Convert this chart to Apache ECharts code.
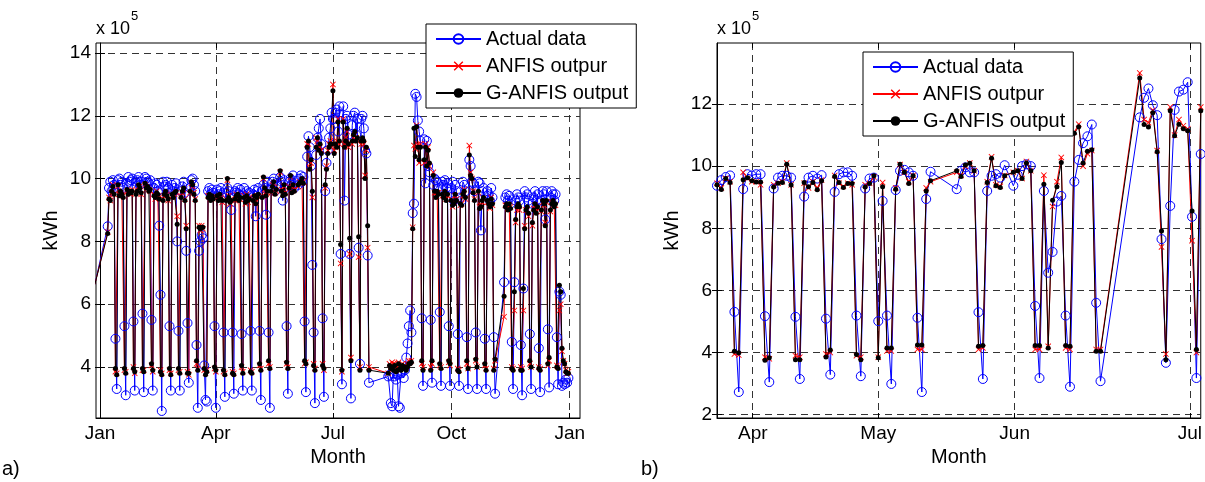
<!DOCTYPE html>
<html>
<head>
<meta charset="utf-8">
<script src="https://cdn.jsdelivr.net/npm/echarts@6.0.0/dist/echarts.min.js"></script>
<style>
  html, body { margin: 0; padding: 0; background: #fff; }
  #chart { width: 1205px; height: 482px; }
</style>
</head>
<body>
<div id="chart"></div>
<script>
// ---- panel a) : daily load over one year, x = day of year (0 = 1 Jan), values in 1e5 kWh
const firstDayA = -4
const monthTicksA = [0, 90, 181, 273, 365]
const monthLabelsA = ['Jan', 'Apr', 'Jul', 'Oct', 'Jan']
const kwhTicksA = [4, 6, 8, 10, 12, 14]

// rows are weeks Mon..Sun, null = no sample that day
const actualA = [
  6.63, null, null, null, null, null, null, null, null, null, 8.48,
  9.7, 9.9, 9.6, 9.95, 9.8, 4.9, 3.3,
  9.95, 10.0, 9.8, 9.9, 9.7, 5.3, 3.1,
  9.85, 10.05, 9.9, 9.95, 10.0, 5.45, 3.25,
  9.9, 9.95, 10.05, 9.8, 9.9, 5.7, 3.2,
  10.05, 10.0, 9.9, 9.85, 9.95, 5.5, 3.25,
  9.7, 9.85, 9.8, 9.6, 8.5, 6.3, 2.6,
  9.9, 9.75, 9.8, 9.9, 9.7, 5.3, 3.25,
  9.8, 9.6, 9.7, 9.85, 8.0, 5.15, 3.25,
  9.6, 9.75, 9.9, 9.55, 7.7, 5.4, 3.5,
  9.7, 9.95, 10.0, 9.8, 9.6, 4.7, 2.7,
  7.7, 8.0, 8.2, 8.1, 4.05, 2.95, 2.9,
  9.6, 9.7, 9.5, 9.65, 9.55, 5.3, 2.7,
  9.65, 9.5, 9.6, 9.7, 9.4, 5.1, 3.05,
  9.55, 9.7, 9.6, 9.45, 9.0, 5.1, 3.15,
  9.6, 9.55, 9.7, 9.5, 9.65, 5.05, 3.25,
  9.7, 9.45, 9.6, 9.5, 9.55, 5.15, 3.25,
  9.5, 9.65, 8.8, 9.6, 9.7, 5.15, 2.95,
  9.6, 9.8, 9.7, 8.85, 9.9, 5.1, 2.7,
  9.7, 9.9, 10.0, 9.6, 9.75, null, null,
  10.05, 9.9, 9.3, 9.95, 9.7, 5.3, 3.15,
  9.9, 10.0, 9.8, 10.1, 9.7, null, null,
  9.8, 10.0, 10.1, 9.9, 10.05, 5.45, 3.2,
  10.7, 11.35, 11.0, 10.4, 7.25, 5.1, 2.85,
  10.75, 11.3, 11.6, 11.9, 11.1, 5.55, 3.05,
  9.6, 10.5, 10.9, 11.3, 11.6, 12.1, 11.9,
  11.9, 12.1, 12.2, 11.5, 12.3, 7.6, 3.45,
  12.3, 9.3, 11.9, 12.0, 11.4, 7.6, 3.0,
  11.7, 12.0, 12.1, 11.4, 11.9, 7.8, 4.1,
  11.9, 12.0, 11.6, 10.9, 10.8, 7.55, 3.5,
  null, null, null, null, null, null, null,
  null, null, null, null, null, null, null,
  3.7, 3.75, 2.85, 2.75, 3.8, 3.7, 3.6,
  3.75, 2.75, 2.7, 3.8, 3.85, 3.65, 3.9,
  4.3, 4.75, 5.3, 5.8, 5.1, 8.9, 9.2,
  12.7, 12.6, 11.85, 11.5, 11.2, 5.55, 3.4,
  11.25, 9.85, 11.2, 10.4, 10.2, 5.5, 3.5,
  9.8, 10.0, 9.95, 9.9, 9.7, 5.75, 3.4,
  9.9, 9.8, 9.95, 9.7, 9.85, 5.3, 3.4,
  9.7, 9.9, 9.3, 9.8, 9.6, 5.05, 3.4,
  9.4, 9.3, 9.9, 9.8, 9.6, 4.95, 3.3,
  10.6, 10.4, 9.9, 9.85, 9.6, 5.1, 3.3,
  9.9, 9.85, 8.35, 9.6, 9.7, 4.9, 3.3,
  9.6, 9.5, 9.3, 9.7, 9.4, 4.95, 3.15,
  null, null, null, null, null, null, 6.7,
  9.4, 9.5, 9.3, 9.45, 9.2, 4.8, 3.3,
  6.7, 9.3, 9.5, 9.4, 9.3, 4.7, 3.1,
  6.5, 9.6, 9.4, 9.5, 9.3, 5.05, 3.3,
  9.2, 9.4, 9.6, 9.3, 9.5, 4.6, 3.2,
  9.3, 9.6, 9.5, 8.7, 9.6, 5.2, 3.35,
  9.4, 9.6, 9.5, 9.3, 9.5, 4.95, 3.45,
  6.4, 6.3, 3.4, 3.5, 3.45, 3.6, 3.5,
  3.65
]

const anfisA = [
  6.63, null, null, null, null, null, null, null, null, null, 8.3,
  9.4, 9.3, 9.55, 9.8, 9.5, 3.85, 3.8,
  9.75, 9.5, 9.55, 9.5, 9.45, 3.9, 3.85,
  9.6, 9.55, 9.6, 9.5, 9.65, 4.0, 3.8,
  9.55, 9.6, 9.75, 9.75, 9.5, 3.9, 3.9,
  9.8, 9.75, 9.7, 9.65, 9.6, 4.05, 3.85,
  9.5, 9.35, 9.6, 9.45, 9.4, 3.9, 3.8,
  9.35, 9.45, 9.55, 9.5, 9.3, 3.9, 3.8,
  9.45, 9.45, 9.5, 9.55, 8.8, 3.9, 3.85,
  9.45, 9.55, 9.65, 9.35, 8.5, 3.85, 3.75,
  9.55, 9.85, 9.75, 9.55, 9.35, 4.1, 3.95,
  8.5, 8.35, 8.5, 8.4, 3.9, 3.8, 3.9,
  9.45, 9.45, 9.35, 9.4, 9.4, 3.95, 3.85,
  9.4, 9.35, 9.45, 9.4, 9.25, 3.85, 3.8,
  9.35, 9.95, 9.45, 9.2, 9.35, 3.85, 3.8,
  9.3, 9.5, 9.45, 9.35, 9.35, 4.0, 3.85,
  9.45, 9.2, 9.5, 9.25, 9.4, 3.9, 3.85,
  9.35, 9.4, 9.25, 9.45, 9.45, 4.05, 3.95,
  9.45, 10.0, 9.65, 9.5, 9.55, 4.1, 4.0,
  9.55, 9.8, 9.85, 9.55, 9.6, null, null,
  10.2, 9.65, 9.5, 9.75, 9.55, 4.1, 4.0,
  9.75, 10.05, 9.6, 9.75, 9.65, null, null,
  9.75, 9.9, 9.85, 9.95, 9.9, 4.1, 4.15,
  11.1, 11.1, 10.35, 10.5, 9.4, 4.1, 3.95,
  11.3, 11.2, 11.0, 11.0, 10.9, 4.1, 3.9,
  9.7, 10.4, 10.9, 11.1, 11.2, 11.0, 13.0,
  10.9, 11.0, 11.2, 11.9, 11.1, 7.3, 3.85,
  11.9, 11.1, 11.3, 11.5, 11.0, 7.6, 4.3,
  11.1, 11.3, 11.4, 11.3, 11.2, 7.5, 4.0,
  11.1, 11.2, 11.1, 10.1, 10.9, 7.8, 4.0,
  null, null, null, null, null, null, null,
  null, null, null, null, null, null, null,
  3.8, 4.1, 4.05, 4.15, 4.1, 4.1, 3.9,
  4.0, 4.15, 4.0, 4.05, 4.1, 4.0, 4.05,
  4.0, 4.1, 4.2, 4.15, 4.2, 8.45, 11.05,
  10.95, 11.7, 11.1, 10.5, 11.1, 4.1, 4.0,
  10.5, 11.1, 10.5, 11.0, 10.4, 4.0, 4.1,
  10.2, 9.55, 9.45, 9.55, 9.55, 4.05, 4.0,
  9.45, 9.45, 9.55, 9.35, 9.45, 4.15, 4.05,
  9.35, 9.1, 9.25, 9.45, 9.35, 3.95, 3.9,
  9.15, 9.2, 9.45, 9.65, 9.35, 4.1, 3.95,
  11.05, 10.2, 10.0, 9.6, 9.35, 4.2, 4.0,
  9.55, 9.1, 9.15, 9.25, 9.35, 4.05, 3.95,
  9.25, 9.25, 9.05, 9.4, 9.15, 3.95, 4.2,
  null, null, null, null, null, null, 5.6,
  9.15, 9.15, 9.05, 9.15, 9.1, 4.0, 3.95,
  5.8, 8.6, 9.0, 9.1, 9.0, 4.0, 3.95,
  5.8, 8.5, 9.0, 9.0, 8.8, 4.1, 4.0,
  8.5, 9.05, 9.15, 8.95, 9.05, 4.0, 3.95,
  8.95, 9.25, 9.15, 8.6, 9.25, 4.05, 4.2,
  8.95, 9.25, 9.25, 9.15, 9.15, 4.05, 4.0,
  5.8, 6.0, 4.5, 4.2, 4.1, 3.9, 3.8,
  3.85
]

const ganfisA = [
  6.63, null, null, null, null, null, null, null, null, null, 8.25,
  9.35, 9.3, 9.6, 9.75, 9.5, 3.95, 3.75,
  9.8, 9.45, 9.6, 9.5, 9.4, 3.95, 3.8,
  9.65, 9.5, 9.6, 9.55, 9.6, 3.95, 3.85,
  9.5, 9.6, 9.8, 9.7, 9.55, 3.95, 3.85,
  9.85, 9.7, 9.75, 9.6, 9.65, 4.1, 3.9,
  9.45, 9.4, 9.55, 9.5, 9.35, 3.85, 3.75,
  9.3, 9.5, 9.6, 9.45, 9.35, 3.95, 3.75,
  9.5, 9.4, 9.55, 9.6, 8.55, 3.95, 3.8,
  9.4, 9.6, 9.7, 9.3, 8.4, 3.8, 3.8,
  9.6, 9.9, 9.8, 9.5, 9.3, 4.2, 3.9,
  8.45, 8.4, 8.45, 8.45, 3.95, 3.75, 3.85,
  9.4, 9.5, 9.3, 9.45, 9.35, 4.0, 3.9,
  9.45, 9.3, 9.5, 9.35, 9.3, 3.9, 3.75,
  9.3, 10.0, 9.4, 9.25, 9.3, 3.8, 3.75,
  9.35, 9.45, 9.5, 9.3, 9.4, 4.05, 3.8,
  9.4, 9.25, 9.45, 9.3, 9.35, 3.85, 3.8,
  9.3, 9.45, 9.2, 9.4, 9.5, 4.1, 3.9,
  9.4, 10.05, 9.7, 9.45, 9.6, 4.2, 3.95,
  9.6, 9.75, 9.9, 9.5, 9.65, null, null,
  10.25, 9.6, 9.45, 9.8, 9.5, 4.15, 3.95,
  9.7, 10.1, 9.55, 9.8, 9.6, null, null,
  9.8, 9.85, 9.9, 10.0, 9.85, 4.2, 4.1,
  11.0, 11.2, 10.3, 10.6, 9.6, 4.05, 3.9,
  11.0, 11.3, 10.9, 11.1, 10.8, 4.05, 3.95,
  9.8, 10.3, 10.8, 11.0, 11.1, 11.1, 12.8,
  10.8, 11.1, 11.0, 11.8, 11.2, 7.9, 3.9,
  11.8, 11.0, 11.2, 11.6, 11.1, 8.1, 4.2,
  11.2, 11.4, 11.5, 11.2, 11.3, 8.15, 3.9,
  11.2, 11.3, 11.2, 10.0, 11.0, 8.5, 3.9,
  null, null, null, null, null, null, null,
  null, null, null, null, null, null, null,
  3.8, 4.05, 3.95, 4.0, 3.9, 4.05, 3.85,
  3.9, 4.1, 3.95, 3.9, 4.05, 3.95, 4.0,
  3.9, 4.0, 4.1, 4.1, 4.15, 8.4, 11.6,
  10.7, 11.65, 11.0, 10.6, 11.0, 4.2, 3.9,
  10.6, 11.0, 10.4, 10.9, 10.5, 3.9, 4.2,
  10.1, 9.6, 9.4, 9.6, 9.5, 4.1, 3.95,
  9.5, 9.4, 9.6, 9.3, 9.5, 4.2, 4.1,
  9.3, 9.15, 9.2, 9.5, 9.3, 3.9, 3.85,
  9.2, 9.15, 9.5, 9.6, 9.4, 4.2, 3.95,
  10.75, 10.1, 10.0, 9.55, 9.3, 4.25, 4.0,
  9.6, 9.05, 9.1, 9.3, 9.4, 4.1, 3.9,
  9.3, 9.2, 9.1, 9.35, 9.2, 3.9, 4.25,
  null, null, null, null, null, null, 6.25,
  9.1, 9.2, 9.0, 9.2, 9.05, 3.95, 3.9,
  6.4, 8.7, 9.1, 9.2, 9.1, 3.9, 3.9,
  6.5, 8.4, 9.0, 9.1, 8.9, 4.2, 4.0,
  8.6, 9.0, 9.2, 8.9, 9.1, 3.95, 3.9,
  9.0, 9.3, 9.2, 8.5, 9.3, 4.1, 4.3,
  9.0, 9.2, 9.3, 9.1, 9.2, 4.0, 3.95,
  6.6, 6.4, 4.6, 4.2, 4.1, 3.85, 3.8,
  3.8
]

// ---- panel b) : zoom on spring, x = sample day (0 = left edge)
const firstDayB = 0
const monthTicksB = [8.2, 37.0, 68.3, 108.5]
const monthLabelsB = ['Apr', 'May', 'Jun', 'Jul']
const kwhTicksB = [2, 4, 6, 8, 10, 12]

const actualB = [
  9.37, 9.55, 9.65, 9.7, 5.31, 2.73, 9.26, 9.74, 9.7, 9.74,
  9.74, 5.17, 3.05, 9.28, 9.63, 9.69, 9.69, 9.63, 5.15, 3.15,
  9.02, 9.63, 9.69, 9.6, 9.71, 5.09, 3.29, 9.17, 9.74, 9.8,
  9.8, 9.69, 5.19, 3.24, 9.28, 9.6, 9.63, 5.01, 8.88, 5.19,
  2.99, 9.23, 9.85, 9.88, 9.8, 9.69, 5.12, 2.73, 8.94, 9.82,
  null, null, null, null, null, 9.26, 9.85, 9.96, 9.8, 9.8,
  5.3, 3.15, 9.2, 9.69, 9.74, 9.63, 10.03, null, 9.37, 9.72,
  10.0, 10.06, 10.0, 5.5, 3.18, 9.2, 6.57, 7.24, 8.86, 9.04,
  5.19, 2.9, 9.5, 10.2, 10.74, 10.96, 11.34, 5.6, 3.08, null,
  null, null, null, null, null, null, null, 11.57, 12.2, 12.5,
  11.96, 11.64, 7.65, 3.67, 8.72, 11.81, 12.4, 12.46, 12.7, 8.37,
  3.18, 10.39
]

const anfisB = [
  9.45, 9.3, 9.6, 9.5, 3.95, 3.92, 9.8, 9.6, 9.5, 9.5,
  9.4, 3.85, 3.8, 9.4, 9.45, 9.5, 10.1, 9.4, 3.9, 3.85,
  9.45, 9.3, 9.5, 9.3, 9.55, 3.95, 4.0, 9.7, 9.45, 9.35,
  9.45, 9.4, 3.9, 3.85, 9.4, 9.45, 9.65, 3.85, 9.47, 4.05,
  4.05, 9.3, 10.05, 9.8, 9.5, 9.7, 4.1, 4.1, 9.3, 9.5,
  null, null, null, null, null, 9.8, 9.7, 10.0, 10.1, 9.85,
  4.1, 4.15, 9.5, 10.3, 9.4, 9.35, 9.7, null, 9.8, 9.85,
  9.6, 10.15, 9.85, 4.1, 4.1, 9.71, 4.2, 8.7, 9.5, 10.28,
  4.15, 4.1, 11.1, 11.35, 10.0, 10.4, 10.5, 4.1, 4.1, null,
  null, null, null, null, null, null, null, 13.0, 11.5, 11.4,
  11.8, 10.5, 7.4, 3.95, 11.9, 11.0, 11.5, 11.3, 11.2, 7.6,
  4.0, 11.9
]

const ganfisB = [
  9.4, 9.25, 9.6, 9.47, 4.04, 3.99, 9.56, 9.63, 9.53, 9.49,
  9.49, 3.75, 3.83, 9.33, 9.45, 9.47, 10.06, 9.39, 3.77, 3.77,
  9.47, 9.34, 9.47, 9.24, 9.53, 3.86, 4.08, 9.67, 9.47, 9.31,
  9.44, 9.44, 3.94, 3.77, 9.33, 9.44, 9.69, 3.83, 9.34, 4.15,
  4.15, 9.26, 10.06, 9.8, 9.44, 9.69, 4.24, 4.24, 9.2, 9.53,
  null, null, null, null, null, 9.85, 9.67, 10.04, 10.09, 9.85,
  4.2, 4.23, 9.47, 10.25, 9.37, 9.31, 9.69, null, 9.8, 9.85,
  9.6, 10.1, 9.85, 4.23, 4.23, 9.42, 4.15, 8.9, 9.34, 10.12,
  4.23, 4.2, 11.06, 11.27, 10.1, 10.48, 10.53, 4.04, 4.04, null,
  null, null, null, null, null, null, null, 12.84, 11.34, 11.26,
  11.72, 10.46, 7.91, 3.77, 11.78, 10.98, 11.35, 11.2, 11.14, 8.56,
  4.1, 11.78
]

const FONT = '"Liberation Sans", Arial, Helvetica, sans-serif'
const BLUE = '#0000ff'
const RED = '#ff0000'
const BLACK = '#000000'
const CROSS = 'path://M0,1L1,0L5,4L9,0L10,1L6,5L10,9L9,10L5,6L1,10L0,9L4,5Z'

// skip missing days, the line is drawn straight over the gap
function toPoints(firstDay, values) {
  const pts = []
  values.forEach((v, i) => {
    if (v !== null) pts.push([firstDay + i, v])
  })
  return pts
}

function nearestLabel(ticks, labels, v) {
  let best = 0
  ticks.forEach((t, i) => {
    if (Math.abs(t - v) < Math.abs(ticks[best] - v)) best = i
  })
  return labels[best]
}

const gridLine = { show: true, lineStyle: { type: [7, 5], color: '#333', width: 1 } }
const tickStyle = { color: '#000', width: 1 }

function monthAxis(gridIndex, min, max, ticks, labels) {
  return {
    type: 'value',
    gridIndex: gridIndex,
    min: min,
    max: max,
    name: 'Month',
    nameLocation: 'middle',
    nameGap: 29,
    nameTextStyle: { fontFamily: FONT, fontSize: 20, color: '#000' },
    axisLine: { show: true, lineStyle: { color: '#000', width: 1 } },
    axisTick: { show: true, inside: true, length: 5, customValues: ticks, lineStyle: tickStyle },
    axisLabel: {
      customValues: ticks,
      formatter: v => nearestLabel(ticks, labels, v),
      fontFamily: FONT, fontSize: 19, color: '#000', margin: 6
    },
    splitLine: gridLine
  }
}

function kwhAxis(gridIndex, min, max, ticks) {
  return {
    type: 'value',
    gridIndex: gridIndex,
    min: min,
    max: max,
    name: 'kWh',
    nameLocation: 'middle',
    nameGap: 35,
    nameTextStyle: { fontFamily: FONT, fontSize: 20, color: '#000' },
    axisLine: { show: true, lineStyle: { color: '#000', width: 1 } },
    axisTick: { show: true, inside: true, length: 5, customValues: ticks, lineStyle: tickStyle },
    axisLabel: {
      customValues: ticks,
      formatter: v => String(v),
      fontFamily: FONT, fontSize: 19, color: '#000', margin: 5
    },
    splitLine: gridLine
  }
}

// matlab draws the ticks on the top and right edges of the box too
function mirrorAxis(gridIndex, position, min, max, ticks) {
  return {
    type: 'value',
    gridIndex: gridIndex,
    position: position,
    min: min,
    max: max,
    axisLine: { show: false },
    axisTick: { show: true, inside: true, length: 5, customValues: ticks, lineStyle: tickStyle },
    axisLabel: { show: false },
    splitLine: { show: false }
  }
}

function panelSeries(idx, firstDay, actual, anfis, ganfis) {
  const common = {
    type: 'line',
    xAxisIndex: idx,
    yAxisIndex: idx,
    smooth: false,
    animation: false,
    emphasis: { disabled: true }
  }
  return [
    Object.assign({}, common, {
      name: 'Actual data',
      data: toPoints(firstDay, actual),
      symbol: 'circle',
      symbolSize: 9,
      lineStyle: { color: BLUE, width: 1 },
      // hollow ring, the lines stay visible through it
      itemStyle: { color: 'rgba(0,0,255,0)', borderColor: BLUE, borderWidth: 1 }
    }),
    Object.assign({}, common, {
      name: 'ANFIS outpur',
      data: toPoints(firstDay, anfis),
      symbol: CROSS,
      symbolSize: 6,
      lineStyle: { color: RED, width: 1 },
      itemStyle: { color: RED, borderWidth: 0 }
    }),
    Object.assign({}, common, {
      name: 'G-ANFIS output',
      data: toPoints(firstDay, ganfis),
      symbol: 'circle',
      symbolSize: 5,
      lineStyle: { color: BLACK, width: 1 },
      itemStyle: { color: BLACK, borderWidth: 0 }
    })
  ]
}

function legendBox(left, top) {
  return {
    orient: 'vertical',
    left: left,
    top: top,
    data: ['Actual data', 'ANFIS outpur', 'G-ANFIS output'],
    itemWidth: 45,
    itemHeight: 12,
    itemGap: 7,
    padding: [5, 8, 5, 9],
    backgroundColor: '#fff',
    borderColor: '#000',
    borderWidth: 1,
    borderRadius: 0,
    selectedMode: false,
    textStyle: { fontFamily: FONT, fontSize: 20, color: '#000' }
  }
}

function label(left, top, text, size) {
  return { type: 'text', left: left, top: top, z: 100, style: { text: text, font: size + 'px ' + FONT, fill: '#000' } }
}

const chart = echarts.init(document.getElementById('chart'), null, { renderer: 'canvas' })

chart.setOption({
  backgroundColor: '#fff',
  animation: false,
  grid: [
    { left: 96, top: 43, width: 484, height: 375, show: true, borderColor: '#000', borderWidth: 1, containLabel: false },
    { left: 717, top: 43, width: 486, height: 375, show: true, borderColor: '#000', borderWidth: 1, containLabel: false }
  ],
  xAxis: [
    monthAxis(0, -3.1, 373, monthTicksA, monthLabelsA),
    monthAxis(1, 0, 111, monthTicksB, monthLabelsB),
    mirrorAxis(0, 'top', -3.1, 373, monthTicksA),
    mirrorAxis(1, 'top', 0, 111, monthTicksB)
  ],
  yAxis: [
    kwhAxis(0, 2.376, 14.318, kwhTicksA),
    kwhAxis(1, 1.894, 13.963, kwhTicksB),
    mirrorAxis(0, 'right', 2.376, 14.318, kwhTicksA),
    mirrorAxis(1, 'right', 1.894, 13.963, kwhTicksB)
  ],
  legend: [legendBox(426, 24), legendBox(863, 52)],
  series: panelSeries(0, firstDayA, actualA, anfisA, ganfisA)
    .concat(panelSeries(1, firstDayB, actualB, anfisB, ganfisB)),
  graphic: [
    label(96, 20, 'x 10', 18),
    label(131, 10, '5', 13),
    label(717, 20, 'x 10', 18),
    label(752, 10, '5', 13),
    label(2, 459, 'a)', 20),
    label(641, 459, 'b)', 20)
  ]
})
</script>
</body>
</html>
